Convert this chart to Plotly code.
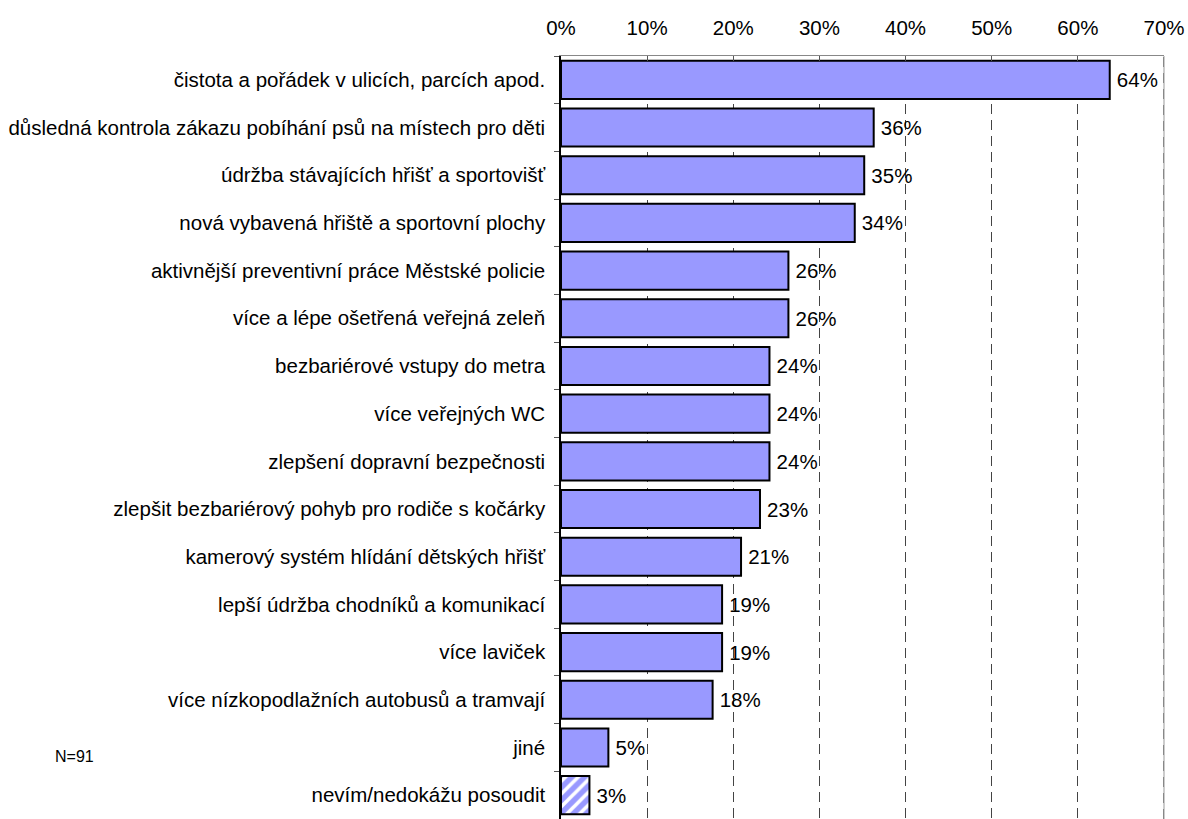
import plotly.graph_objects as go

categories = [
    "čistota a pořádek v ulicích, parcích apod.",
    "důsledná kontrola zákazu pobíhání psů na místech pro děti",
    "údržba stávajících hřišť a sportovišť",
    "nová vybavená hřiště a sportovní plochy",
    "aktivnější preventivní práce Městské policie",
    "více a lépe ošetřená veřejná zeleň",
    "bezbariérové vstupy do metra",
    "více veřejných WC",
    "zlepšení dopravní bezpečnosti",
    "zlepšit bezbariérový pohyb pro rodiče s kočárky",
    "kamerový systém hlídání dětských hřišť",
    "lepší údržba chodníků a komunikací",
    "více laviček",
    "více nízkopodlažních autobusů a tramvají",
    "jiné",
    "nevím/nedokážu posoudit",
]
values = [63.7, 36.3, 35.2, 34.1, 26.4, 26.4, 24.2, 24.2, 24.2, 23.1, 20.9, 18.7, 18.7, 17.6, 5.5, 3.3]
labels = ["64%", "36%", "35%", "34%", "26%", "26%", "24%", "24%", "24%", "23%", "21%", "19%", "19%", "18%", "5%", "3%"]
x_ticks = [0, 10, 20, 30, 40, 50, 60, 70]
x_tick_labels = ["0%", "10%", "20%", "30%", "40%", "50%", "60%", "70%"]
note = "N=91"

BAR = "#9999FF"
FONT = "Liberation Sans"
GRID = "#444444"
DASH = "10px,6px"
n = len(categories)
shapes_pattern = [""] * (n - 1) + ["/"]

W, H = 1188, 819
L, R, T, B = 561, 24, 56, 0

fig = go.Figure()
fig.add_trace(go.Bar(
    y=categories, x=values, orientation="h",
    text=labels, texttemplate="\u2009%{text}", textposition="outside", cliponaxis=False,
    textfont=dict(family=FONT, size=20.5, color="black"),
    marker=dict(
        color=BAR,
        line=dict(color="black", width=2),
        pattern=dict(shape=shapes_pattern, fgcolor="white", bgcolor=BAR,
                     size=9, solidity=0.4, fillmode="replace"),
    ),
    width=0.8,
))

fig.update_layout(
    width=W, height=H,
    margin=dict(l=L, r=R, t=T, b=B, autoexpand=False),
    paper_bgcolor="white", plot_bgcolor="white",
    showlegend=False,
    font=dict(family=FONT, size=20.5, color="black"),
    xaxis=dict(
        side="top", range=[x_ticks[0], x_ticks[-1]], tickvals=x_ticks, ticktext=x_tick_labels,
        showgrid=True, gridcolor=GRID, gridwidth=1, griddash=DASH,
        showline=True, linecolor="#888888", linewidth=1,
        ticks="inside", ticklen=5, tickcolor="#555555",
        zeroline=False, ticklabelstandoff=12, automargin=False,
        tickfont=dict(family=FONT, size=20.5),
    ),
    yaxis=dict(
        autorange="reversed", categoryorder="array", categoryarray=categories,
        showline=True, linecolor="black", linewidth=1.5,
        ticks="outside", ticklen=5, tickcolor="#555555", tickson="boundaries",
        showgrid=False, ticklabelstandoff=10, automargin=False,
        tickfont=dict(family=FONT, size=20.5),
    ),
    bargap=0.2,
    shapes=[
        # plot frame on the right (gray) with the dashed gridline at the range end
        dict(type="line", xref="paper", yref="paper", x0=1, x1=1, y0=0, y1=1,
             line=dict(color="#999999", width=1), layer="below"),
        dict(type="line", xref="x", yref="paper", x0=x_ticks[-1], x1=x_ticks[-1], y0=0, y1=1,
             line=dict(color=GRID, width=1, dash=DASH), layer="below"),
    ],
    annotations=[dict(
        text=note, xref="paper", yref="paper", showarrow=False,
        x=(74 - L) / (W - L - R), y=(H - 756) / (H - T - B),
        xanchor="center", yanchor="middle",
        font=dict(family=FONT, size=16, color="black"),
    )],
)

fig.write_html(
    "out.html",
    config={"displayModeBar": False},
    post_script="document.body.style.margin='0';document.body.style.overflow='hidden';",
)
